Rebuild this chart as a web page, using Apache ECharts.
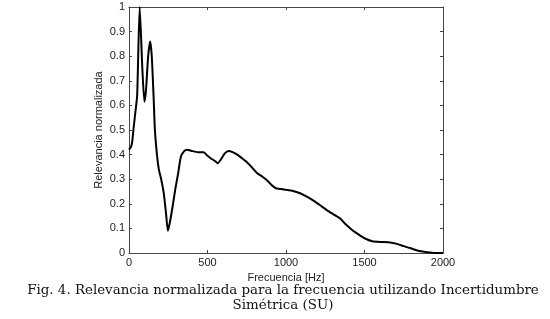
<!DOCTYPE html>
<html>
<head>
<meta charset="utf-8">
<script src="https://cdn.jsdelivr.net/npm/echarts@6/dist/echarts.min.js"></script>
<style>
html, body { margin: 0; padding: 0; background: #fff; }
#chart { width: 550px; height: 319px; }
</style>
</head>
<body>
<div id="chart"></div>
<script>
// frecuencia (Hz) y relevancia normalizada
const freqHz = [0, 12, 20, 28, 40, 52, 68, 85, 98, 108, 122, 135, 145, 157, 165, 178, 190, 205, 222, 236,
    248, 262, 278, 295, 312, 330, 350, 370, 400, 440, 475, 500, 520, 545, 565, 585, 610, 635, 660, 690,
    720, 750, 780, 815, 850, 880, 910, 935, 970, 1000, 1040, 1090, 1130, 1175, 1220, 1260, 1300, 1345,
    1375, 1410, 1440, 1475, 1510, 1550, 1600, 1650, 1700, 1750, 1800, 1850, 1900, 1950, 2000]
const relevance = [0.42, 0.43, 0.45, 0.5, 0.57, 0.64, 1.0, 0.75, 0.615, 0.66, 0.8, 0.86, 0.8, 0.63, 0.5, 0.4,
    0.34, 0.3, 0.24, 0.16, 0.09, 0.13, 0.19, 0.26, 0.32, 0.39, 0.413, 0.42, 0.415, 0.41, 0.41, 0.395, 0.385,
    0.375, 0.365, 0.38, 0.405, 0.415, 0.41, 0.4, 0.385, 0.37, 0.35, 0.325, 0.31, 0.295, 0.275, 0.263, 0.26,
    0.257, 0.253, 0.243, 0.23, 0.213, 0.193, 0.174, 0.158, 0.14, 0.12, 0.1, 0.085, 0.07, 0.057, 0.048,
    0.045, 0.044, 0.038, 0.028, 0.018, 0.008, 0.003, 0, 0]
const xTicks = [0, 500, 1000, 1500, 2000]
const yTicks = [0, 0.1, 0.2, 0.3, 0.4, 0.5, 0.6, 0.7, 0.8, 0.9, 1]
const captionLines = ['Fig. 4. Relevancia normalizada para la frecuencia utilizando Incertidumbre', 'Simétrica (SU)']

const chart = echarts.init(document.getElementById('chart'))
const sans = 'Liberation Sans'
const axisColor = '#444'

function boxAxis (extra) {
    return Object.assign({
        type: 'value',
        axisLine: { show: true, onZero: false, lineStyle: { color: axisColor, width: 1 } },
        axisTick: { show: true, inside: true, length: 3, lineStyle: { color: axisColor } },
        splitLine: { show: false },
        axisLabel: { show: false }
    }, extra)
}

const option = {
    animation: false,
    grid: { left: 129, right: 107, top: 7, bottom: 66, containLabel: false },
    xAxis: [
        boxAxis({
            position: 'bottom', min: xTicks[0], max: xTicks[xTicks.length - 1], interval: 500,
            name: 'Frecuencia [Hz]', nameLocation: 'middle', nameGap: 17,
            nameTextStyle: { fontFamily: sans, fontSize: 11, color: '#222' },
            axisLabel: { show: true, fontFamily: sans, fontSize: 11, color: '#222', margin: 4,
                formatter: v => String(v) }
        }),
        boxAxis({ position: 'top', min: 0, max: 2000, interval: 500 })
    ],
    yAxis: [
        boxAxis({
            position: 'left', min: yTicks[0], max: yTicks[yTicks.length - 1], interval: 0.1,
            name: 'Relevancia normalizada', nameLocation: 'middle', nameGap: 25, nameRotate: 90,
            nameMoveOverlap: false,
            nameTextStyle: { fontFamily: sans, fontSize: 11, color: '#222' },
            axisLabel: { show: true, fontFamily: sans, fontSize: 11, color: '#222', margin: 4,
                formatter: v => String(Math.round(v * 10) / 10) }
        }),
        boxAxis({ position: 'right', min: 0, max: 1, interval: 0.1 })
    ],
    series: [{
        type: 'line',
        xAxisIndex: 0,
        yAxisIndex: 0,
        data: freqHz.map((f, i) => [f, relevance[i]]),
        showSymbol: false,
        smooth: 0.2,
        lineStyle: { color: '#000', width: 2 }
    }],
    graphic: captionLines.map((t, i) => ({
        type: 'text',
        x: 283,
        y: 284 + i * 15,
        style: { text: t, font: '13.4px "DejaVu Serif"', fill: '#111', align: 'center', verticalAlign: 'top' }
    }))
}

chart.setOption(option)
</script>
</body>
</html>
